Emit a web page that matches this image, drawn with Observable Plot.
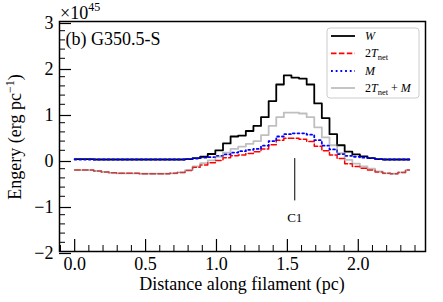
<!DOCTYPE html>
<html><head><meta charset="utf-8">
<script src="https://cdn.jsdelivr.net/npm/d3@7"></script>
<script src="https://cdn.jsdelivr.net/npm/@observablehq/plot@0.6"></script>
<style>body{margin:0;background:#fff} #chart{position:relative;width:443px;height:302px}</style>
</head><body><div id="chart"></div>
<script>
// Distance along filament (pc)
const distance = [0.000,0.054,0.107,0.161,0.215,0.268,0.322,0.375,0.429,0.483,0.536,0.590,0.644,0.697,0.751,0.805,0.858,0.912,0.965,1.019,1.073,1.126,1.180,1.234,1.287,1.341,1.395,1.448,1.502,1.555,1.609,1.663,1.716,1.770,1.824,1.877,1.931,1.985,2.038,2.092,2.145,2.199,2.253,2.306,2.360];
// Energies (x 1e45 erg pc^-1)
const W   = [0.01,0.01,0.01,0.00,0.00,0.00,0.00,0.00,0.00,0.00,0.00,0.00,0.00,0.00,0.00,0.01,0.03,0.06,0.12,0.20,0.35,0.50,0.52,0.62,0.73,0.92,1.27,1.63,1.83,1.78,1.76,1.63,1.22,0.90,0.55,0.31,0.17,0.11,0.07,0.03,0.01,0.00,0.00,0.00,0.00];
const T2  = [-0.23,-0.23,-0.23,-0.25,-0.27,-0.29,-0.30,-0.30,-0.30,-0.31,-0.31,-0.31,-0.31,-0.30,-0.28,-0.24,-0.17,-0.12,-0.07,-0.02,0.04,0.08,0.10,0.13,0.17,0.23,0.32,0.42,0.46,0.46,0.44,0.39,0.29,0.19,0.10,0.02,-0.09,-0.15,-0.19,-0.23,-0.27,-0.30,-0.31,-0.28,-0.23];
const M   = [0.00,0.00,0.00,0.00,0.00,0.00,0.00,0.00,0.00,0.00,0.00,0.00,0.00,0.00,0.00,0.01,0.02,0.04,0.05,0.08,0.11,0.15,0.18,0.21,0.23,0.30,0.40,0.50,0.55,0.57,0.57,0.54,0.42,0.30,0.22,0.12,0.08,0.06,0.04,0.03,0.01,0.00,0.00,0.00,0.00];
const T2M = [-0.23,-0.23,-0.23,-0.25,-0.27,-0.29,-0.30,-0.30,-0.30,-0.31,-0.31,-0.31,-0.31,-0.30,-0.28,-0.23,-0.15,-0.08,-0.02,0.06,0.15,0.23,0.28,0.34,0.40,0.53,0.73,0.92,1.02,1.02,1.00,0.92,0.70,0.48,0.31,0.14,-0.01,-0.09,-0.15,-0.20,-0.26,-0.30,-0.31,-0.28,-0.23];

const xMajor = [0, 0.5, 1, 1.5, 2];
const xMinor = [-0.1,0.1,0.2,0.3,0.4,0.6,0.7,0.8,0.9,1.1,1.2,1.3,1.4,1.6,1.7,1.8,1.9,2.1,2.2,2.3,2.4];
const yMajor = [-2, -1, 0, 1, 2, 3];
const yMinor = [-1.8,-1.6,-1.4,-1.2,-0.8,-0.6,-0.4,-0.2,0.2,0.4,0.6,0.8,1.2,1.4,1.6,1.8,2.2,2.4,2.6,2.8];

// C1 annotation
const c1X = [1.552];
const c1Top = 0.02, c1Bottom = -0.9, c1LabelY = -1.27;

const panelLabel = "(b) G350.5-S";
const seriesNames = ["W", "2T_net", "M", "2T_net + M"];

const rows = distance.map((d, i) => ({d, W: W[i], T2: T2[i], M: M[i], T2M: T2M[i]}));
const font = "'Liberation Serif', 'Times New Roman', serif";
const fmt = v => (v < 0 ? "\u2212" : "") + Math.abs(v);

const svg = Plot.plot({
  width: 443, height: 302,
  marginLeft: 59, marginRight: 18, marginTop: 21, marginBottom: 51,
  style: {fontFamily: font, fontSize: "18px", background: "white", color: "black", overflow: "visible"},
  x: {domain: [-0.107, 2.474]},
  y: {domain: [-2, 3]},
  marks: [
    Plot.lineY(rows, {x: "d", y: "W", curve: "step", stroke: "black", strokeWidth: 1.8}),
    Plot.lineY(rows, {x: "d", y: "T2", curve: "step", stroke: "red", strokeWidth: 1.5, strokeDasharray: "5.5,2.4"}),
    Plot.lineY(rows, {x: "d", y: "M", curve: "step", stroke: "blue", strokeWidth: 1.8, strokeDasharray: "1.8,2.9"}),
    Plot.lineY(rows, {x: "d", y: "T2M", curve: "step", stroke: "gray", strokeOpacity: 0.5, strokeWidth: 1.8}),
    Plot.ruleX(c1X, {y1: c1Top, y2: c1Bottom, stroke: "black", strokeWidth: 1}),
    Plot.text(c1X, {x: d => d, y: c1LabelY, text: () => "C1", fontSize: 13}),
    Plot.axisX(xMajor, {tickSize: -12, tickPadding: 18, tickFormat: d => d.toFixed(1), label: null, strokeWidth: 1.2}),
    Plot.axisX(xMinor, {tickSize: -6, tickFormat: () => "", label: null}),
    Plot.axisY(yMajor, {tickSize: -12, tickPadding: 18, tickFormat: fmt, label: null, strokeWidth: 1.2, dy: 2}),
    Plot.axisY(yMinor, {tickSize: -6, tickFormat: () => "", label: null}),
    Plot.frame({stroke: "black", strokeWidth: 1.5}),
    Plot.text([panelLabel], {frameAnchor: "top-left", dx: 6, dy: 11, fontSize: 18, text: d => d})
  ]
});
document.getElementById("chart").appendChild(svg);

const s = d3.select(svg);
// scale factor label
const sf = s.append("text").attr("x", 60).attr("y", 19).attr("text-anchor", "start")
  .attr("font-size", 18).attr("font-family", font);
sf.append("tspan").text("\u00d710");
sf.append("tspan").attr("font-size", 12).attr("dy", -8).text("45");

// axis labels
s.append("text").attr("x", 242).attr("y", 290).attr("text-anchor", "middle")
  .attr("font-size", 18).attr("font-family", font).text("Distance along filament (pc)");
const yl = s.append("text").attr("transform", "translate(21,137) rotate(-90)").attr("text-anchor", "middle")
  .attr("font-size", 18).attr("font-family", font);
yl.append("tspan").text("Engery (erg pc");
yl.append("tspan").attr("font-size", 12).attr("dy", -7).text("\u22121");
yl.append("tspan").attr("dy", 7).text(")");

// legend
const lg = s.append("g").attr("font-family", font).attr("font-size", 12).attr("text-anchor", "start");
lg.append("rect").attr("x", 327).attr("y", 28).attr("width", 92).attr("height", 70).attr("rx", 3)
  .attr("fill", "white").attr("fill-opacity", 0.8).attr("stroke", "#cccccc").attr("stroke-width", 1);
const legendStyles = [
  {stroke: "black", dash: null, op: 1},
  {stroke: "red", dash: "5.5,2.4", op: 1},
  {stroke: "blue", dash: "1.8,2.9", op: 1},
  {stroke: "gray", dash: null, op: 0.5}
];
const legendParts = [
  [{t: "W", i: true}],
  [{t: "2"}, {t: "T", i: true}, {t: "net", sub: true}],
  [{t: "M", i: true}],
  [{t: "2"}, {t: "T", i: true}, {t: "net", sub: true}, {t: "\u00a0+\u00a0"}, {t: "M", i: true}]
];
const rowY = [36, 53.3, 71, 88];
seriesNames.forEach((name, k) => {
  const y = rowY[k];
  lg.append("line").attr("x1", 331).attr("x2", 355).attr("y1", y).attr("y2", y)
    .attr("stroke", legendStyles[k].stroke).attr("stroke-opacity", legendStyles[k].op)
    .attr("stroke-width", 1.8).attr("stroke-dasharray", legendStyles[k].dash);
  const t = lg.append("text").attr("x", 365).attr("y", y + 4).attr("text-anchor", "start");
  let sub = false;
  legendParts[k].forEach(p => {
    const ts = t.append("tspan").text(p.t);
    if (p.i) ts.attr("font-style", "italic");
    if (p.sub && !sub) { ts.attr("dy", 3).attr("font-size", 8.5); sub = true; }
    else if (!p.sub && sub) { ts.attr("dy", -3); sub = false; }
  });
});
</script>
</body></html>
